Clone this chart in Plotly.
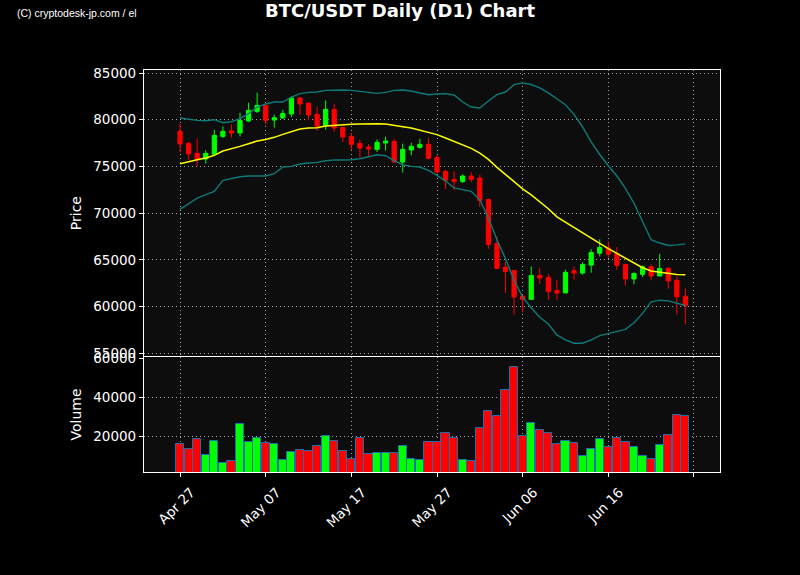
import pandas as pd
import plotly.graph_objects as go

# BTC/USDT daily candles, Apr 27 -> Jun 25
dates = pd.date_range("2025-04-27", periods=60, freq="D")

opens = [78750, 77465, 76394, 75787, 76287, 78215, 78786, 78572, 79857, 80893,
         81535, 79964, 80179, 80607, 82321, 81785, 80571, 79393, 81107, 79179,
         78215, 77465, 77072, 76822, 77501, 77679, 75466, 76751, 77037, 77358,
         75960, 74465, 73608, 73394, 73965, 73751, 71466, 66754, 64219, 63862,
         61113, 60756, 63327, 63113, 61720, 61454, 63830, 63582, 64433, 65709,
         66277, 65638, 64504, 62943, 63440, 64256, 63262, 64078, 62802, 61099]
highs = [79572, 77608, 77965, 76716, 78929, 79286, 79500, 80750, 81821, 82892,
         81535, 80536, 81071, 82500, 82428, 81785, 81400, 82071, 81714, 79179,
         78607, 77858, 77394, 77893, 78179, 77965, 77429, 77537, 77965, 78072,
         76178, 74644, 74501, 74144, 74358, 74108, 71466, 67504, 64755, 63862,
         61292, 64291, 64148, 63505, 62862, 63936, 64290, 64752, 66135, 67199,
         66950, 66348, 64575, 63617, 64398, 64504, 65638, 64220, 63227, 61915]
lows = [76501, 75716, 75002, 75288, 76250, 78036, 78072, 78215, 79750, 80714,
        79465, 79143, 80107, 80286, 80500, 79929, 78800, 78950, 78700, 77608,
        76787, 75966, 76108, 76537, 76680, 75395, 74324, 76180, 76894, 75752,
        74215, 72573, 72430, 73215, 73322, 70645, 66183, 64005, 61435, 59149,
        59363, 60756, 62434, 60720, 60720, 61454, 62870, 63404, 63617, 65355,
        65213, 63936, 62234, 62376, 63156, 62802, 63262, 61915, 59149, 58085]
closes = [77394, 76323, 75787, 76394, 78322, 78750, 78572, 79929, 81000, 81535,
          79929, 80214, 80679, 82321, 81678, 80500, 79300, 81107, 79107, 78143,
          77358, 76965, 76858, 77572, 77715, 75466, 76822, 77144, 77358, 75859,
          74394, 73501, 73394, 73965, 73608, 71359, 66647, 64077, 63755, 61006,
          60756, 63327, 63041, 61613, 61435, 63653, 63580, 64504, 65780, 66312,
          65603, 64397, 62943, 63546, 64256, 63262, 64078, 62731, 61028, 60071]

volumes = [15898, 13506, 18462, 10259, 17437, 6157, 7182, 26152, 16924, 18975,
           16411, 15898, 7695, 11797, 12822, 12309, 14873, 20000, 17437, 12309,
           8208, 18975, 10771, 11284, 11284, 11284, 14873, 8208, 7695, 16924,
           16924, 21538, 18975, 7695, 7182, 24102, 32818, 30254, 43584, 55376,
           20000, 26665, 23076, 21538, 15898, 17437, 16411, 9746, 13335, 18462,
           14360, 18975, 16924, 14360, 9746, 8208, 15385, 20513, 30767, 30254]

# Bollinger band (20)
sma20 = [75288, 75540, 75720, 75900, 76180, 76640, 76860, 77140, 77430, 77715,
         77890, 78110, 78430, 78750, 79000, 79110, 79140, 79320, 79400, 79460,
         79500, 79540, 79570, 79570, 79540, 79360, 79250, 79110, 78890, 78640,
         78400, 78040, 77680, 77290, 76930, 76430, 75750, 74900, 74100, 73350,
         72600, 71950, 71220, 70470, 69600, 69020, 68430, 67830, 67280, 66750,
         66200, 65700, 65150, 64620, 64150, 63800, 63650, 63540, 63430, 63390]
bb_upper = [80179, 80036, 79929, 79893, 80000, 79679, 79786, 80107, 80643, 81357,
            81678, 81892, 81892, 82428, 82785, 82927, 82963, 83142, 83177, 83177,
            83142, 83035, 82892, 82820, 82927, 83142, 83177, 83070, 82856, 82678,
            82750, 82785, 82642, 81892, 81357, 81250, 81999, 82678, 82963, 83749,
            83940, 83763, 83408, 82876, 82237, 81598, 80568, 79219, 77622, 76272,
            75066, 73965, 72651, 71054, 69101, 67149, 66794, 66525, 66596, 66702]
bb_lower = [70397, 71004, 71610, 71967, 72324, 73502, 73681, 73895, 73967, 73967,
            73967, 74217, 74931, 75002, 75252, 75359, 75430, 75609, 75700, 75690,
            75716, 75823, 76073, 76251, 76144, 75609, 75180, 75002, 74931, 74574,
            74040, 73430, 72700, 72540, 72330, 71420, 69470, 67150, 65110, 62800,
            61000, 59860, 58850, 58121, 56951, 56419, 56064, 56064, 56419, 56880,
            57128, 57305, 57553, 58263, 59256, 60497, 60674, 60603, 60390, 60107]

tick_dates = ["2025-04-27", "2025-05-07", "2025-05-17", "2025-05-27",
              "2025-06-06", "2025-06-16", "2025-06-26"]
tick_labels = ["Apr 27", "May 07", "May 17", "May 27", "Jun 06", "Jun 16", ""]

GREEN = "#00ff00"
RED = "#ff0000"
vol_colors = [GREEN if c >= o else RED for o, c in zip(opens, closes)]

fig = go.Figure()

fig.add_trace(go.Scatter(x=dates, y=bb_upper, mode="lines",
                         line=dict(color="#0e7a7a", width=1.4), xaxis="x", yaxis="y"))
fig.add_trace(go.Scatter(x=dates, y=bb_lower, mode="lines",
                         line=dict(color="#0e7a7a", width=1.4), xaxis="x", yaxis="y"))
fig.add_trace(go.Scatter(x=dates, y=sma20, mode="lines",
                         line=dict(color="#ffff00", width=1.5), xaxis="x", yaxis="y"))
fig.add_trace(go.Candlestick(
    x=dates, open=opens, high=highs, low=lows, close=closes,
    increasing=dict(line=dict(color=GREEN, width=1), fillcolor=GREEN),
    decreasing=dict(line=dict(color=RED, width=1), fillcolor=RED),
    whiskerwidth=0, xaxis="x", yaxis="y"))
fig.add_trace(go.Bar(
    x=dates, y=volumes, marker=dict(color=vol_colors, line=dict(color="#1f6fb0", width=1)),
    width=86400000 * 0.95, xaxis="x2", yaxis="y2"))

x_range = ["2025-04-22 19:00", "2025-06-29 01:00"]
grid = dict(showgrid=True, gridcolor="rgba(200,200,200,0.8)", griddash="1px,3px", gridwidth=1)
axis_common = dict(showline=True, linecolor="white", linewidth=1.2, mirror=True,
                   ticks="outside", tickcolor="white", ticklen=4,
                   tickfont=dict(color="white", size=13.5), zeroline=False, **grid)

fig.update_layout(
    width=800, height=575,
    paper_bgcolor="black", plot_bgcolor="#0d0d0d",
    showlegend=False,
    margin=dict(l=144, r=80, t=70, b=103),
    font=dict(family="DejaVu Sans", color="white"),
    title=dict(text="<b>BTC/USDT Daily (D1) Chart</b>", x=0.5, xanchor="center",
               y=0.982, yanchor="middle", font=dict(size=18, color="white")),
    xaxis=dict(domain=[0, 1], range=x_range, anchor="y", showticklabels=False,
               rangeslider=dict(visible=False), tickvals=tick_dates, ticks="",
               **{k: v for k, v in axis_common.items() if k != "ticks"}),
    yaxis=dict(domain=[0.288, 1], range=[54673, 85321], anchor="x",
               tickvals=[55000, 60000, 65000, 70000, 75000, 80000, 85000],
               ticktext=["55000", "60000", "65000", "70000", "75000", "80000", "85000"],
               title=dict(text="Price", font=dict(size=14, color="white"), standoff=8),
               **axis_common),
    xaxis2=dict(domain=[0, 1], range=x_range, anchor="y2", matches="x",
                tickvals=tick_dates, ticktext=tick_labels, tickangle=-45,
                ticklabelshift=11, ticklabelstandoff=2,
                **axis_common),
    yaxis2=dict(domain=[0, 0.286], range=[1700, 60500], anchor="x2",
                tickvals=[20000, 40000, 60000], ticktext=["20000", "40000", "60000"],
                title=dict(text="Volume", font=dict(size=14, color="white"), standoff=8),
                **axis_common),
    bargap=0,
)

fig.add_annotation(text="(C) cryptodesk-jp.com / el", xref="paper", yref="paper",
                   x=-0.224, y=1.143, xanchor="left", yanchor="middle", showarrow=False,
                   font=dict(family="Liberation Sans Narrow, Liberation Sans", size=10.5,
                             color="white"))

# page has an 8px body margin by default; drop it so the figure sits at 0,0
fig.write_html("out.html", config={"displayModeBar": False},
               post_script="document.body.style.margin='0';")
